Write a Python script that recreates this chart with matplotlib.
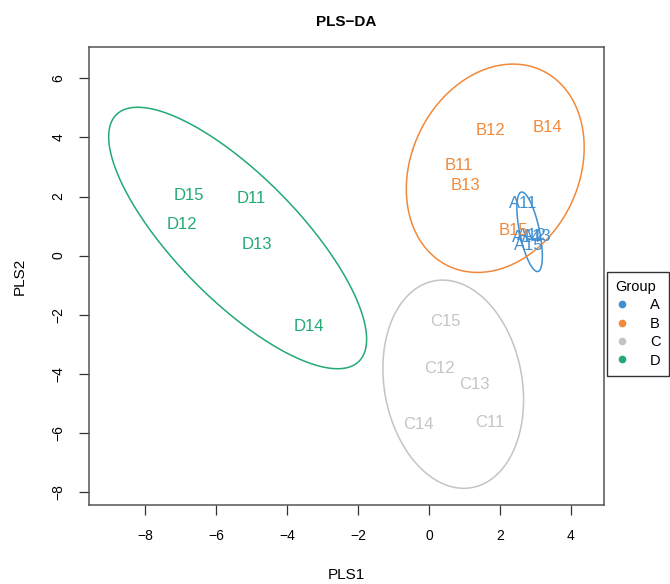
import numpy as np
import matplotlib
matplotlib.use("Agg")
import matplotlib.pyplot as plt
from matplotlib.lines import Line2D

plt.rcParams['font.family'] = ['Liberation Sans', 'DejaVu Sans']

groups = ['A', 'B', 'C', 'D']
colors = ['#3F8FD0', '#F2893A', '#C4C4C4', '#22AA72']

labels_A = ['A11', 'A12', 'A13', 'A14', 'A15']
pls1_A = [2.65, 2.90, 3.04, 2.76, 2.82]
pls2_A = [1.76, 0.68, 0.64, 0.61, 0.34]

labels_B = ['B11', 'B12', 'B13', 'B14', 'B15']
pls1_B = [0.85, 1.72, 1.04, 3.35, 2.37]
pls2_B = [3.04, 4.22, 2.36, 4.32, 0.84]

labels_C = ['C11', 'C12', 'C13', 'C14', 'C15']
pls1_C = [1.72, 0.28, 1.27, -0.31, 0.45]
pls2_C = [-5.64, -3.82, -4.36, -5.71, -2.23]

labels_D = ['D11', 'D12', 'D13', 'D14', 'D15']
pls1_D = [-5.01, -6.96, -4.85, -3.38, -6.76]
pls2_D = [1.93, 1.05, 0.37, -2.40, 2.03]

data = [(labels_A, pls1_A, pls2_A), (labels_B, pls1_B, pls2_B),
        (labels_C, pls1_C, pls2_C), (labels_D, pls1_D, pls2_D)]

x_ticks = [-8, -6, -4, -2, 0, 2, 4]
y_ticks = [-8, -6, -4, -2, 0, 2, 4, 6]

fig = plt.figure(figsize=(6.7, 5.84), dpi=100)
ax = fig.add_axes([89/670, 1-505/584, (604-89)/670, (505-47)/584])

scale = np.sqrt(5.991464547)  # chi-square 95%, 2 dof
t = np.linspace(0, 2*np.pi, 400)
for (labs, xs, ys), col in zip(data, colors):
    xs = np.asarray(xs); ys = np.asarray(ys)
    for lab, x, y in zip(labs, xs, ys):
        ax.text(x, y, lab, color=col, fontsize=12, ha='center', va='center')
    cov = np.cov(np.vstack([xs, ys]))
    vals, vecs = np.linalg.eigh(cov)
    circ = np.vstack([np.cos(t), np.sin(t)]) * (scale*np.sqrt(vals))[:, None]
    pts = vecs @ circ
    ax.plot(xs.mean() + pts[0], ys.mean() + pts[1], color=col, lw=1.1)

ax.set_xlim(-9.58, 4.93)
ax.set_ylim(-8.44, 7.06)
ax.set_xticks(x_ticks)
ax.set_yticks(y_ticks)
ax.set_xticklabels([str(v).replace('-', '\u2212') for v in x_ticks])
ax.set_yticklabels([str(v).replace('-', '\u2212') for v in y_ticks], rotation=90, va='center')
ax.tick_params(direction='out', length=7, width=0.9, colors='#333333', labelsize=10,
               labelcolor='black', pad=10)
for s in ax.spines.values():
    s.set_color('#555555')
    s.set_linewidth(1.1)

fig.text(346/670, 1-22/584, 'PLS\u2212DA', ha='center', va='center', fontsize=11, fontweight='bold')
fig.text(346/670, 1-575/584, 'PLS1', ha='center', va='center', fontsize=11)
fig.text(20/670, 1-276/584, 'PLS2', ha='center', va='center', fontsize=11, rotation=90)

handles = [Line2D([], [], marker='o', ls='', color=c, markersize=4.5) for c in colors]
leg = fig.legend(handles, groups, title='Group', loc='upper left',
                 bbox_to_anchor=(607/670, 1-272/584), frameon=True, fancybox=False,
                 fontsize=10.5, title_fontsize=10.5, handletextpad=1.4, labelspacing=0.3,
                 borderpad=0.55, handlelength=1.0, borderaxespad=0)
leg.get_frame().set_edgecolor('black')
leg.get_frame().set_linewidth(1.0)
leg._legend_box.align = 'left'

fig.savefig('out.png', dpi=100)
